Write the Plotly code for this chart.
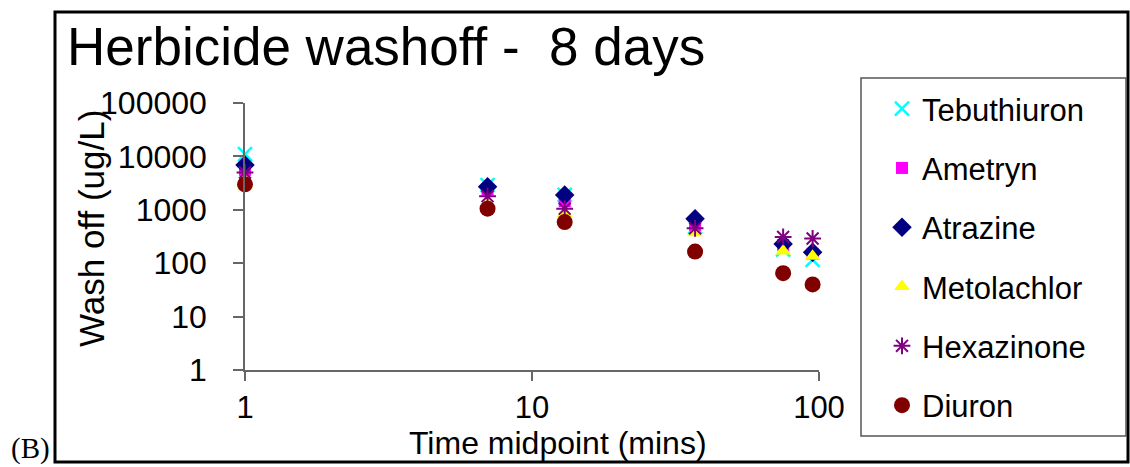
import plotly.graph_objects as go

# ---- data ----
times = [1, 7, 13, 37, 75, 95]
tebuthiuron = [11000, 2900, 1900, 480, 180, 115]
ametryn = [5600, 2400, 1450, 520, 220, 150]
atrazine = [6900, 2700, 1900, 680, 230, 160]
metolachlor = [2800, 1300, 850, 370, 170, 135]
hexazinone = [5000, 1800, 1050, 450, 310, 290]
diuron = [3000, 1050, 590, 165, 65, 40]

series_names = ["Tebuthiuron", "Ametryn", "Atrazine", "Metolachlor", "Hexazinone", "Diuron"]
series_values = [tebuthiuron, ametryn, atrazine, metolachlor, hexazinone, diuron]

y_tickvals = [1, 10, 100, 1000, 10000, 100000]
y_ticktext = ["1", "10", "100", "1000", "10000", "100000"]
x_tickvals = [1, 10, 100]
x_ticktext = ["1", "10", "100"]

# ---- styles ----
W, H = 1130, 467
L, R, T, B = 245, 819, 103, 370  # plot area in pixels
styles = [
    dict(symbol="x-thin-open", color="#00FFFF", size=14, line=dict(width=2.5, color="#00FFFF")),
    dict(symbol="square", color="#FF00FF", size=12),
    dict(symbol="diamond", color="#000080", size=15),
    dict(symbol="triangle-up", color="#FFFF00", size=14),
    dict(symbol="asterisk-open", color="#800080", size=14, line=dict(width=2, color="#800080")),
    dict(symbol="circle", color="#800000", size=16),
]

def px(xp):
    return (xp - L) / (R - L)

def py(yp):
    return (B - yp) / (B - T)

FONT = "Liberation Sans, Arial, sans-serif"

fig = go.Figure()
for i, (name, vals) in enumerate(zip(series_names, series_values)):
    st = dict(styles[i])
    marker = dict(symbol=st["symbol"], color=st["color"], size=st["size"])
    if "line" in st:
        marker["line"] = st["line"]
    else:
        marker["line"] = dict(width=0)
    fig.add_trace(go.Scatter(
        x=times, y=vals, mode="markers", name=name, marker=marker,
        legendgroup=f"g{i}", cliponaxis=False,
    ))

axis_common = dict(
    showgrid=False, zeroline=False, showline=True, linecolor="#666666", linewidth=1.5,
    ticks="outside", tickwidth=1.5, tickcolor="#666666",
)
fig.update_xaxes(type="log", range=[0, 2], tickvals=x_tickvals, ticktext=x_ticktext,
                 ticklen=9, ticklabelstandoff=0,
                 tickfont=dict(family=FONT, size=31, color="black"), **axis_common)
fig.update_yaxes(type="log", range=[0, 5], tickvals=y_tickvals, ticktext=y_ticktext,
                 ticklen=10, ticklabelstandoff=20,
                 tickfont=dict(family=FONT, size=32, color="black"), **axis_common)

shapes = [
    # outer frame
    dict(type="rect", xref="paper", yref="paper", x0=px(55), x1=px(1128), y0=py(462), y1=py(12),
         line=dict(color="black", width=3), layer="below"),
    # legend box
    dict(type="rect", xref="paper", yref="paper", x0=px(861), x1=px(1126), y0=py(436), y1=py(78),
         line=dict(color="#555555", width=1.5), layer="below"),
]

annotations = [
    dict(text="Herbicide washoff - \u00a08 days", xref="paper", yref="paper", x=px(65), y=py(47),
         xanchor="left", yanchor="middle", showarrow=False,
         font=dict(family=FONT, size=53, color="black")),
    dict(text="Wash off (ug/L)", xref="paper", yref="paper", x=px(91), y=py(229),
         xanchor="center", yanchor="middle", showarrow=False, textangle=-90,
         font=dict(family=FONT, size=35, color="black")),
    dict(text="Time midpoint (mins)", xref="paper", yref="paper", x=px(558), y=py(443),
         xanchor="center", yanchor="middle", showarrow=False,
         font=dict(family=FONT, size=32, color="black")),
    dict(text="(B)", xref="paper", yref="paper", x=px(9), y=py(448),
         xanchor="left", yanchor="middle", showarrow=False,
         font=dict(family="Liberation Serif, Times New Roman, serif", size=29, color="black")),
]

fig.update_layout(
    width=W, height=H,
    margin=dict(l=L, r=W - R, t=T, b=H - B, pad=0),
    paper_bgcolor="white", plot_bgcolor="white",
    showlegend=True,
    legend=dict(x=px(882), y=py(82), xanchor="left", yanchor="top",
                font=dict(family=FONT, size=31, color="black"),
                traceorder="grouped", tracegroupgap=16, maxheight=440,
                bgcolor="rgba(0,0,0,0)", borderwidth=0),
    shapes=shapes, annotations=annotations,
)

fig.write_html("out.html")
